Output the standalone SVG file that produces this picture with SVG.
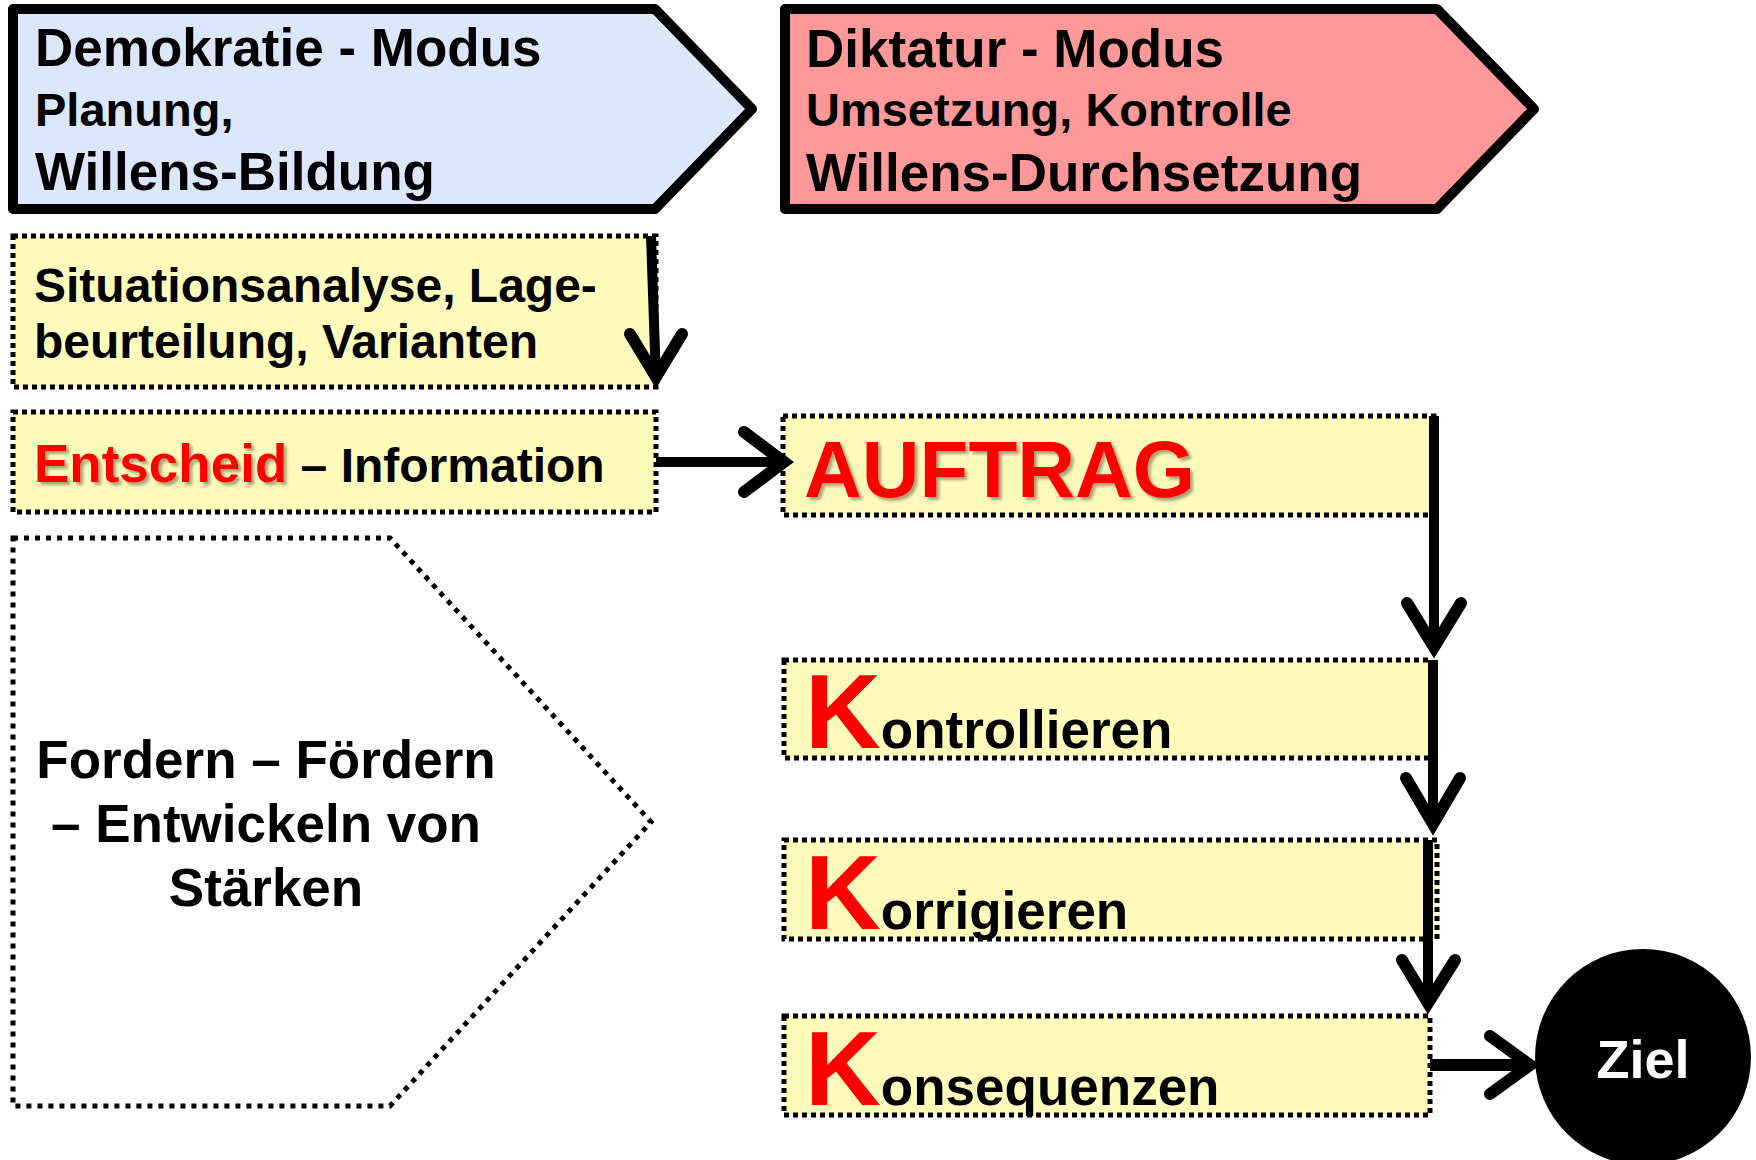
<svg xmlns="http://www.w3.org/2000/svg" width="1756" height="1160" viewBox="0 0 1756 1160">
  <defs>
    <filter id="shadow" x="-10%" y="-20%" width="130%" height="150%">
      <feDropShadow dx="3" dy="3" stdDeviation="1.6" flood-color="#6b6b4a" flood-opacity="0.6"/>
    </filter>
  </defs>
  <style>
    text { font-family: "Liberation Sans", Arial, sans-serif; font-weight: bold; fill: #000; }
    .head { stroke: #000; stroke-width: 10; stroke-linejoin: round; }
    .step { fill: #FFFCBB; stroke: #000; stroke-width: 5; stroke-dasharray: 5 4; }
    .red { fill: #FF0000; }
    .big { font-size: 105px; }
    .verb { font-size: 53px; }
    .shaft { fill: none; stroke: #000; stroke-width: 10; }
    .wing { fill: none; stroke: #000; stroke-width: 12; stroke-linecap: round; stroke-linejoin: miter; stroke-miterlimit: 6; }
  </style>

  <!-- header: democracy mode -->
  <g id="demokratie">
    <polygon class="head" fill="#DCE6FD" points="13,9 655,9 752,109 655,209 13,209"/>
    <text x="35" y="66" font-size="53">Demokratie - Modus</text>
    <text x="35" y="126" font-size="47">Planung,</text>
    <text x="35" y="190" font-size="53">Willens-Bildung</text>
  </g>

  <!-- header: dictatorship mode -->
  <g id="diktatur">
    <polygon class="head" fill="#FF9999" points="785,9 1437,9 1534,109 1437,209 785,209"/>
    <text x="806" y="67" font-size="53">Diktatur - Modus</text>
    <text x="806" y="126" font-size="47">Umsetzung, Kontrolle</text>
    <text x="806" y="191" font-size="53">Willens-Durchsetzung</text>
  </g>

  <g id="situationsanalyse">
    <rect class="step" x="13" y="236" width="643" height="151"/>
    <text x="34" y="302" font-size="48">Situationsanalyse, Lage-</text>
    <text x="34" y="358" font-size="48">beurteilung, Varianten</text>
  </g>

  <g id="entscheid">
    <rect class="step" x="13" y="412" width="643" height="100"/>
    <text x="34" y="482"><tspan class="red" font-size="53" filter="url(#shadow)">Entscheid</tspan><tspan font-size="48"> – Information</tspan></text>
  </g>

  <g id="fordern">
    <polygon points="13,538 390,538 651,822 390,1106 13,1106" fill="#FFFFFF" stroke="#000" stroke-width="5" stroke-dasharray="5 6"/>
    <text x="266" y="778" font-size="53" text-anchor="middle">Fordern – Fördern</text>
    <text x="266" y="842" font-size="53" text-anchor="middle">– Entwickeln von</text>
    <text x="266" y="906" font-size="53" text-anchor="middle">Stärken</text>
  </g>

  <g id="auftrag">
    <rect class="step" x="783" y="416" width="651" height="99"/>
    <text class="red" x="804" y="497" font-size="80" filter="url(#shadow)">AUFTRAG</text>
  </g>

  <g id="kontrollieren">
    <rect class="step" x="784" y="660" width="647" height="98"/>
    <text x="805" y="748"><tspan class="red big">K</tspan><tspan class="verb">ontrollieren</tspan></text>
  </g>

  <g id="korrigieren">
    <rect class="step" x="784" y="840" width="653" height="99"/>
    <text x="805" y="929"><tspan class="red big">K</tspan><tspan class="verb">orrigieren</tspan></text>
  </g>

  <g id="konsequenzen">
    <rect class="step" x="784" y="1016" width="646" height="99"/>
    <text x="805" y="1105"><tspan class="red big">K</tspan><tspan class="verb">onsequenzen</tspan></text>
  </g>

  <g id="ziel">
    <circle cx="1643" cy="1057" r="108" fill="#000"/>
    <text x="1643" y="1078" font-size="54" text-anchor="middle" style="fill:#FFFFFF">Ziel</text>
  </g>

  <!-- connectors -->
  <g id="connectors">
    <!-- Situationsanalyse down to Entscheid -->
    <line class="shaft" x1="651" y1="236" x2="656" y2="380"/>
    <polyline class="wing" points="630,334 656,377 682,334"/>
    <!-- Entscheid to AUFTRAG -->
    <line class="shaft" x1="656" y1="462" x2="786" y2="462"/>
    <polyline class="wing" points="744,432 784,462 744,492"/>
    <!-- AUFTRAG to Kontrollieren -->
    <line class="shaft" x1="1434" y1="416" x2="1434" y2="650"/>
    <polyline class="wing" points="1407,603 1434,647 1461,603"/>
    <!-- Kontrollieren to Korrigieren -->
    <line class="shaft" x1="1433" y1="660" x2="1433" y2="828"/>
    <polyline class="wing" points="1406,778 1433,824 1460,778"/>
    <!-- Korrigieren to Konsequenzen -->
    <line class="shaft" x1="1428" y1="840" x2="1428" y2="1006"/>
    <polyline class="wing" points="1402,960 1428,1003 1455,960"/>
    <!-- Konsequenzen to Ziel -->
    <line class="shaft" x1="1430" y1="1065" x2="1530" y2="1065" style="stroke-width:12"/>
    <polyline class="wing" points="1490,1036 1530,1065 1490,1094"/>
  </g>
</svg>
